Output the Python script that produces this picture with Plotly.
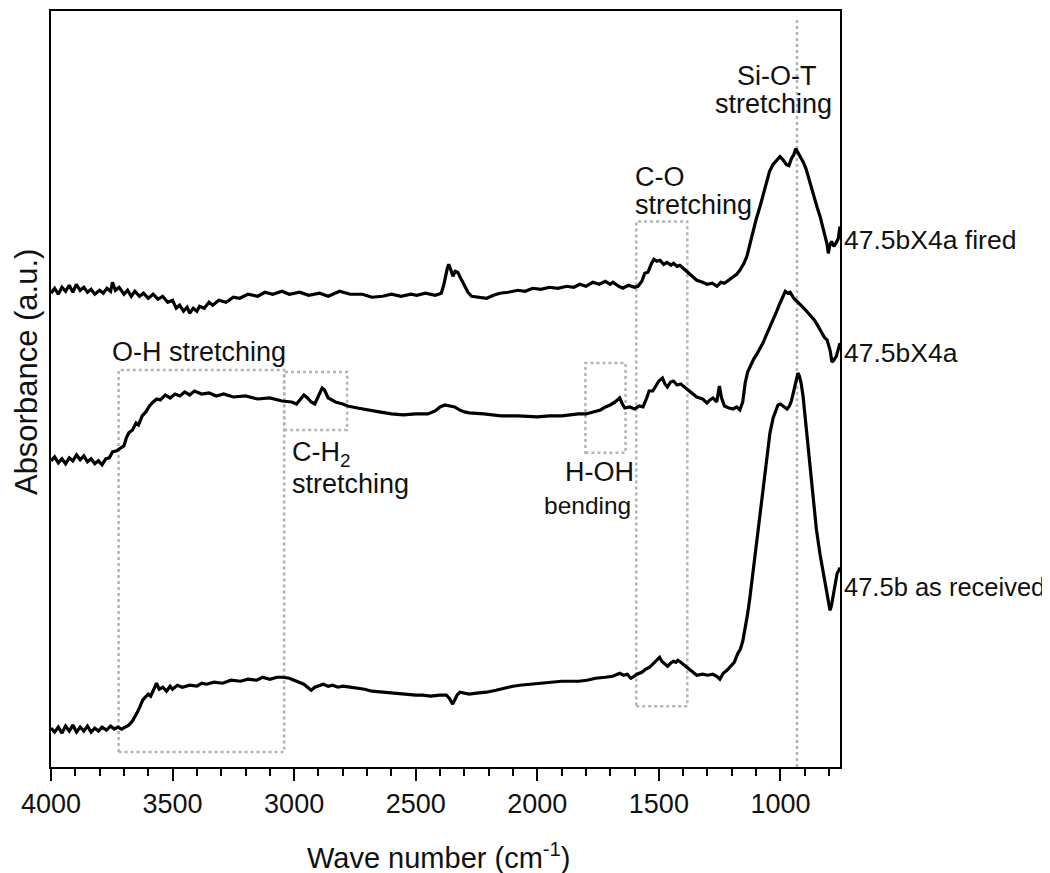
import plotly.graph_objects as go

# ---------------- data (wavenumber cm^-1, absorbance a.u.) ----------------
fired_wn = [4000, 3985, 3970, 3955, 3940, 3925, 3910, 3896, 3880, 3865, 3850, 3835, 3820, 3800, 3785, 3770, 3755, 3747, 3735, 3720,
            3700, 3685, 3670, 3655, 3636, 3620, 3600, 3580, 3560, 3541, 3520, 3500, 3485, 3471, 3455, 3440, 3430, 3415, 3400, 3389,
            3370, 3350, 3335, 3310, 3280, 3250, 3224, 3190, 3150, 3120, 3088, 3050, 3020, 2977, 2940, 2895, 2860, 2813, 2770, 2720,
            2680, 2636, 2600, 2560, 2520, 2496, 2460, 2420, 2395, 2385, 2370, 2364, 2355, 2347, 2338, 2327, 2315, 2300, 2285, 2270,
            2240, 2208, 2180, 2154, 2120, 2080, 2050, 2019, 1985, 1950, 1915, 1879, 1850, 1825, 1800, 1772, 1745, 1720, 1700, 1689,
            1665, 1648, 1625, 1600, 1586, 1570, 1558, 1545, 1530, 1520, 1508, 1495, 1480, 1467, 1450, 1440, 1425, 1414, 1400, 1385,
            1365, 1344, 1320, 1302, 1280, 1261, 1245, 1230, 1208, 1190, 1180, 1167, 1150, 1138, 1125, 1113, 1100, 1084, 1070, 1056,
            1045, 1031, 1015, 1002, 990, 975, 965, 955, 945, 937, 928, 918, 907, 895, 886, 875, 866, 850, 837, 825,
            815, 808, 803, 798, 790, 780, 770, 762, 755]
fired_abs = [475, 480, 474, 481, 477, 483, 476, 484, 478, 481, 476, 479, 474, 478, 475, 480, 477, 486, 478, 481,
             474, 478, 472, 477, 472, 475, 470, 474, 469, 472, 466, 468, 460, 463, 457, 461, 455, 460, 457, 462,
             460, 466, 463, 468, 466, 471, 470, 474, 472, 476, 474, 477, 474, 476, 473, 475, 472, 477, 474, 474,
             471, 472, 474, 472, 474, 473, 475, 473, 475, 483, 500, 504, 498, 492, 497, 496, 490, 483, 476, 472,
             471, 470, 473, 475, 476, 478, 477, 480, 479, 481, 480, 482, 481, 484, 482, 486, 484, 487, 484, 486,
             482, 480, 483, 481, 482, 487, 495, 496, 505, 509, 507, 508, 504, 506, 503, 505, 502, 503, 500, 497,
             492, 488, 486, 484, 485, 482, 486, 485, 489, 492, 494, 498, 505, 512, 525, 537, 549, 562, 575, 588,
             597, 604, 609, 612, 609, 604, 603, 610, 614, 620, 616, 612, 607, 600, 592, 583, 574, 562, 552, 540,
             528, 524, 515, 522, 527, 522, 526, 530, 542]

treated_wn = [4000, 3985, 3970, 3955, 3940, 3925, 3910, 3895, 3880, 3865, 3850, 3835, 3820, 3805, 3790, 3775, 3760, 3747, 3730, 3715,
              3700, 3690, 3680, 3665, 3650, 3640, 3625, 3610, 3595, 3580, 3565, 3550, 3530, 3510, 3490, 3470, 3450, 3430, 3410, 3380,
              3350, 3320, 3290, 3250, 3200, 3150, 3100, 3050, 3010, 2990, 2975, 2960, 2945, 2930, 2915, 2900, 2885, 2875, 2860, 2845,
              2830, 2800, 2780, 2740, 2700, 2650, 2600, 2550, 2500, 2450, 2420, 2400, 2380, 2360, 2340, 2320, 2300, 2280, 2220, 2150,
              2080, 2000, 1950, 1900, 1830, 1800, 1772, 1740, 1720, 1700, 1680, 1661, 1650, 1640, 1620, 1600, 1580, 1565, 1550, 1540,
              1525, 1510, 1500, 1485, 1475, 1465, 1452, 1440, 1425, 1410, 1395, 1385, 1365, 1344, 1320, 1302, 1290, 1277, 1262, 1251,
              1242, 1230, 1212, 1195, 1180, 1167, 1155, 1145, 1135, 1120, 1110, 1097, 1084, 1072, 1060, 1045, 1030, 1015, 1002, 990,
              980, 970, 960, 945, 932, 915, 900, 885, 870, 860, 850, 835, 820, 808, 796, 788, 780, 770, 762, 755]
treated_abs = [307, 311, 305, 309, 304, 310, 307, 313, 308, 312, 306, 309, 304, 307, 303, 309, 310, 316, 317, 320,
               322, 330, 335, 338, 345, 343, 352, 356, 362, 366, 369, 368, 373, 370, 374, 372, 376, 373, 377, 374,
               375, 372, 374, 371, 372, 369, 370, 367, 366, 364, 368, 373, 370, 366, 364, 372, 380, 378, 370, 368,
               366, 364, 362, 360, 358, 356, 354, 353, 354, 354, 357, 361, 363, 362, 361, 358, 356, 355, 354, 352,
               352, 351, 352, 352, 354, 354, 356, 358, 361, 363, 366, 370, 364, 360, 361, 359, 362, 361, 370, 377,
               377, 383, 387, 390, 384, 381, 386, 387, 383, 384, 381, 380, 375, 371, 369, 365, 368, 370, 366, 382,
               370, 362, 360, 359, 361, 358, 366, 385, 396, 404, 409, 414, 419, 425, 432, 440, 449, 457, 465, 472,
               477, 475, 476, 470, 467, 462, 459, 455, 451, 448, 444, 437, 431, 428, 418, 406, 408, 412, 418, 425]

received_wn = [4000, 3985, 3970, 3955, 3940, 3925, 3910, 3895, 3880, 3865, 3850, 3835, 3820, 3805, 3790, 3772, 3755, 3740, 3725, 3710,
               3695, 3680, 3665, 3655, 3645, 3635, 3623, 3612, 3600, 3590, 3578, 3566, 3555, 3540, 3525, 3510, 3500, 3480, 3460, 3430,
               3400, 3380, 3360, 3330, 3294, 3260, 3220, 3190, 3154, 3130, 3100, 3070, 3047, 3020, 3000, 2977, 2960, 2945, 2930, 2915,
               2900, 2880, 2860, 2842, 2820, 2800, 2770, 2743, 2710, 2680, 2640, 2607, 2570, 2540, 2500, 2471, 2440, 2401, 2374, 2362,
               2355, 2348, 2340, 2330, 2319, 2300, 2280, 2250, 2209, 2170, 2140, 2100, 2072, 2030, 2000, 1960, 1936, 1900, 1870, 1830,
               1796, 1760, 1720, 1690, 1661, 1645, 1630, 1615, 1607, 1590, 1570, 1555, 1538, 1520, 1510, 1497, 1488, 1480, 1464, 1452,
               1440, 1430, 1422, 1410, 1400, 1385, 1370, 1360, 1344, 1320, 1300, 1278, 1262, 1249, 1235, 1220, 1205, 1190, 1175, 1165,
               1155, 1146, 1136, 1126, 1112, 1097, 1085, 1072, 1058, 1043, 1030, 1020, 1010, 1000, 990, 980, 973, 963, 955, 948,
               940, 933, 928, 922, 915, 907, 900, 891, 880, 866, 852, 837, 828, 820, 808, 800, 796, 790, 784, 775,
               767, 760, 755]
received_abs = [39, 35, 40, 34, 41, 36, 42, 35, 40, 36, 41, 35, 39, 36, 40, 37, 41, 38, 40, 38,
                40, 42, 46, 50, 55, 60, 67, 70, 73, 71, 78, 84, 78, 80, 76, 81, 78, 82, 80, 82,
                81, 84, 83, 85, 84, 87, 86, 88, 87, 90, 88, 90, 90, 89, 87, 85, 83, 80, 77, 80,
                81, 83, 81, 82, 80, 81, 80, 79, 78, 76, 75, 74, 73, 73, 72, 72, 71, 72, 72, 69,
                65, 63, 67, 72, 75, 74, 73, 74, 75, 77, 79, 81, 82, 83, 84, 85, 85, 86, 86, 86,
                87, 89, 90, 91, 94, 92, 93, 89, 90, 93, 95, 98, 100, 104, 107, 110, 106, 104, 101, 104,
                106, 105, 107, 105, 103, 100, 97, 95, 92, 93, 92, 93, 91, 88, 94, 97, 101, 105, 114, 118,
                126, 137, 152, 169, 197, 226, 255, 282, 310, 335, 350, 357, 363, 364, 362, 360, 359, 362, 367, 374,
                383, 392, 395, 392, 385, 372, 355, 334, 305, 268, 238, 213, 200, 187, 172, 160, 157, 162, 170, 185,
                194, 197, 200]

series_names = ["47.5bX4a fired", "47.5bX4a", "47.5b as received"]
x_tick_values = [4000, 3500, 3000, 2500, 2000, 1500, 1000]
x_tick_labels = ["4000", "3500", "3000", "2500", "2000", "1500", "1000"]

# band regions: (wn_high, wn_low, abs_low, abs_high)
band_boxes = [
    (3722, 3041, 15, 398),   # O-H stretching
    (3041, 2782, 338, 396),  # C-H2 stretching
    (1802, 1637, 315, 405),  # H-OH bending
    (1593, 1383, 61, 547),   # C-O stretching
]
si_o_t_wn = 932

FONT = "Arial, Liberation Sans, sans-serif"

# page has an 8px body margin; the figure is sized to fit the window
W, H = 1042, 865
ML, MR, MT, MB = 43, 210, 1, 106
PLOT_W = W - ML - MR      # 789
PLOT_H = H - MT - MB      # 758
OFF = 8
PL, PT = OFF + ML, OFF + MT   # plot left/top in window pixels


def px(xp):
    return (xp - PL) / PLOT_W


def py(yp):
    return (PT + PLOT_H - yp) / PLOT_H


fig = go.Figure()
for wn, ab, nm in [(fired_wn, fired_abs, series_names[0]),
                   (treated_wn, treated_abs, series_names[1]),
                   (received_wn, received_abs, series_names[2])]:
    fig.add_trace(go.Scatter(x=wn, y=ab, mode="lines", name=nm,
                             line=dict(color="black", width=3.2), showlegend=False))

shapes = []
for x0, x1, y0, y1 in band_boxes:
    shapes.append(dict(type="rect", xref="x", yref="y", x0=x0, x1=x1, y0=y0, y1=y1,
                       line=dict(color="#b4b4b4", width=2.5, dash="dot"), layer="below"))
shapes.append(dict(type="line", xref="x", yref="y", x0=si_o_t_wn, x1=si_o_t_wn, y0=0, y1=750,
                   line=dict(color="#b4b4b4", width=2.5, dash="dot"), layer="below"))

anns = []


def ann(x, y, text, size=27, xanchor="center", **kw):
    anns.append(dict(x=px(x), y=py(y), xref="paper", yref="paper", text=text, showarrow=False,
                     xanchor=xanchor, yanchor="middle",
                     font=dict(family=FONT, size=size, color="#111"), **kw))


ann(776, 74, "Si-O-T")
ann(773, 102, "stretching")
ann(633, 175, "C-O", xanchor="left")
ann(633, 204, "stretching", xanchor="left")
ann(110, 351, "O-H stretching", xanchor="left")
ann(290, 453, "C-H<sub>2</sub>", xanchor="left")
ann(290, 483, "stretching", xanchor="left")
ann(636, 471, "H-OH", xanchor="right")
ann(633, 505, "bending", size=24.5, xanchor="right")
ann(842, 239, series_names[0], size=26.5, xanchor="left")
ann(842, 352, series_names[1], size=26.5, xanchor="left")
ann(842, 587, series_names[2], size=25.5, xanchor="left")
ann(26, 371, "Absorbance (a.u.)", size=31, textangle=-90)
ann(439, 856, "Wave number (cm<sup>-1</sup>)", size=29)

fig.update_layout(
    width=W, height=H,
    margin=dict(l=ML, r=MR, t=MT, b=MB),
    paper_bgcolor="white", plot_bgcolor="white",
    shapes=shapes, annotations=anns,
    xaxis=dict(range=[4000, 755], showgrid=False, zeroline=False,
               showline=True, mirror=True, linecolor="black", linewidth=2,
               tickmode="array", tickvals=x_tick_values, ticktext=x_tick_labels,
               ticks="outside", ticklen=12, tickwidth=2, tickcolor="black",
               tickfont=dict(family=FONT, size=27, color="#111"),
               minor=dict(dtick=100, tick0=0, ticks="outside", ticklen=7, tickwidth=1.5,
                          tickcolor="black", showgrid=False)),
    yaxis=dict(range=[0, 758], showgrid=False, zeroline=False, showticklabels=False, ticks="",
               showline=True, mirror=True, linecolor="black", linewidth=2),
)

fig.write_html("out.html")
